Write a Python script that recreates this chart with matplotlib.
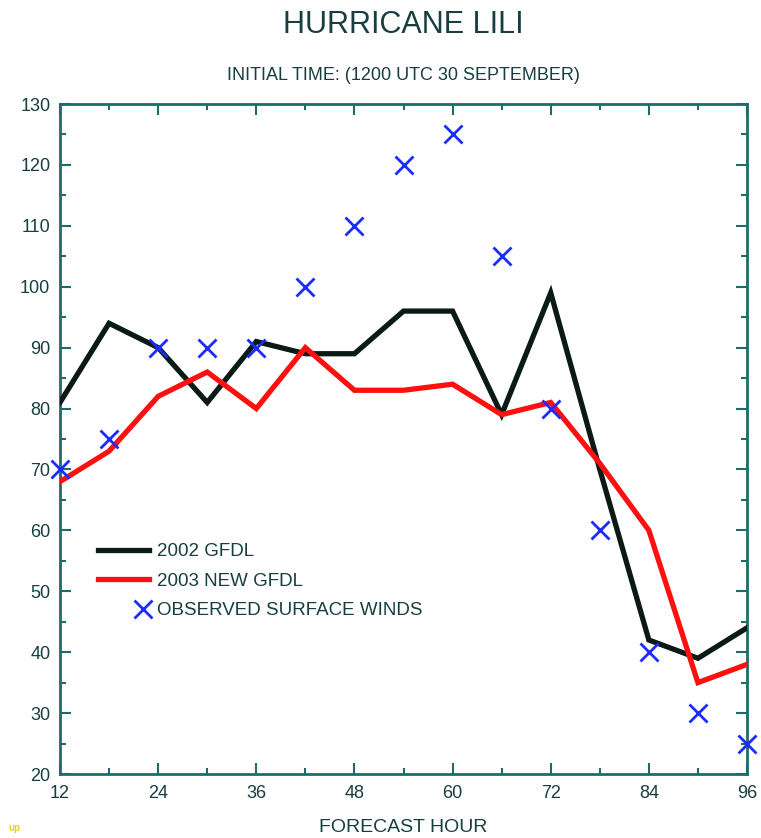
import matplotlib
matplotlib.use("Agg")
import matplotlib.pyplot as plt
from matplotlib.ticker import MultipleLocator
from matplotlib.legend_handler import HandlerLine2D
import numpy as np

hours = [12, 18, 24, 30, 36, 42, 48, 54, 60, 66, 72, 78, 84, 90, 96]
gfdl_2002 = [81, 94, 90, 81, 91, 89, 89, 96, 96, 79, 99, 70, 42, 39, 44]
gfdl_2003 = [68, 73, 82, 86, 80, 90, 83, 83, 84, 79, 81, 71, 60, 35, 38]
observed = [70, 75, 90, 90, 90, 100, 110, 120, 125, 105, 80, 60, 40, 30, 25]
x_ticks = [12, 24, 36, 48, 60, 72, 84, 96]
y_ticks = [20, 30, 40, 50, 60, 70, 80, 90, 100, 110, 120, 130]

FONT = ['Liberation Sans Narrow', 'Liberation Sans', 'DejaVu Sans']
TXT = '#173f3f'
AX = '#1f6b6b'
plt.rcParams['font.family'] = FONT


class RightMarkerHandler(HandlerLine2D):
    def get_xdata(self, legend, xdescent, ydescent, width, height, fontsize):
        x = -xdescent + width - 0.3 * fontsize
        return np.array([x]), np.array([x])


fig = plt.figure(figsize=(7.61, 8.38), dpi=100)
ax = fig.add_axes([60/761, 1-774/838, 687/761, 670/838])

ax.plot(hours, gfdl_2002, color='#0a1a14', lw=3.8, solid_joinstyle='miter', label='2002 GFDL', zorder=3)
ax.plot(hours, gfdl_2003, color='#ff1010', lw=3.8, solid_joinstyle='miter', label='2003 NEW GFDL', zorder=3)
obs, = ax.plot(hours, observed, linestyle='none', marker='x', color='#1a2cff', ms=13, mew=2.0,
               label='OBSERVED SURFACE WINDS', zorder=4, clip_on=False)

ax.set_xlim(12, 96)
ax.set_ylim(20, 130)
ax.set_xticks(x_ticks)
ax.set_yticks(y_ticks)
ax.xaxis.set_minor_locator(MultipleLocator(6))
ax.yaxis.set_minor_locator(MultipleLocator(5))
ax.tick_params(which='both', direction='in', top=True, right=True, color=AX,
               labelsize=13, labelcolor=TXT)
ax.tick_params(which='major', length=8, width=1.5)
ax.tick_params(which='minor', length=4, width=1.5)
ax.tick_params(axis='y', pad=7)
ax.tick_params(axis='x', pad=8)
for s in ax.spines.values():
    s.set_color(AX)
    s.set_linewidth(2)

ax.set_xlabel('FORECAST HOUR', fontsize=14, color=TXT, labelpad=12)

fig.text(0.53, 1-25/838, 'HURRICANE LILI', ha='center', va='center', fontsize=22, color=TXT)
fig.text(0.53, 1-75/838, 'INITIAL TIME: (1200 UTC 30 SEPTEMBER)', ha='center', va='center',
         fontsize=13, color=TXT)
fig.text(8/761, 1-828/838, 'up', ha='left', va='center', fontsize=7, color='#e0d020', weight='bold')

leg = ax.legend(loc='upper left', bbox_to_anchor=(0.045, 0.356), frameon=False, fontsize=13.5,
                handlelength=2.7, handletextpad=0.4, labelspacing=0.66, labelcolor=TXT,
                borderaxespad=0, handler_map={obs: RightMarkerHandler(numpoints=1)})

fig.savefig('out.png', dpi=100)
